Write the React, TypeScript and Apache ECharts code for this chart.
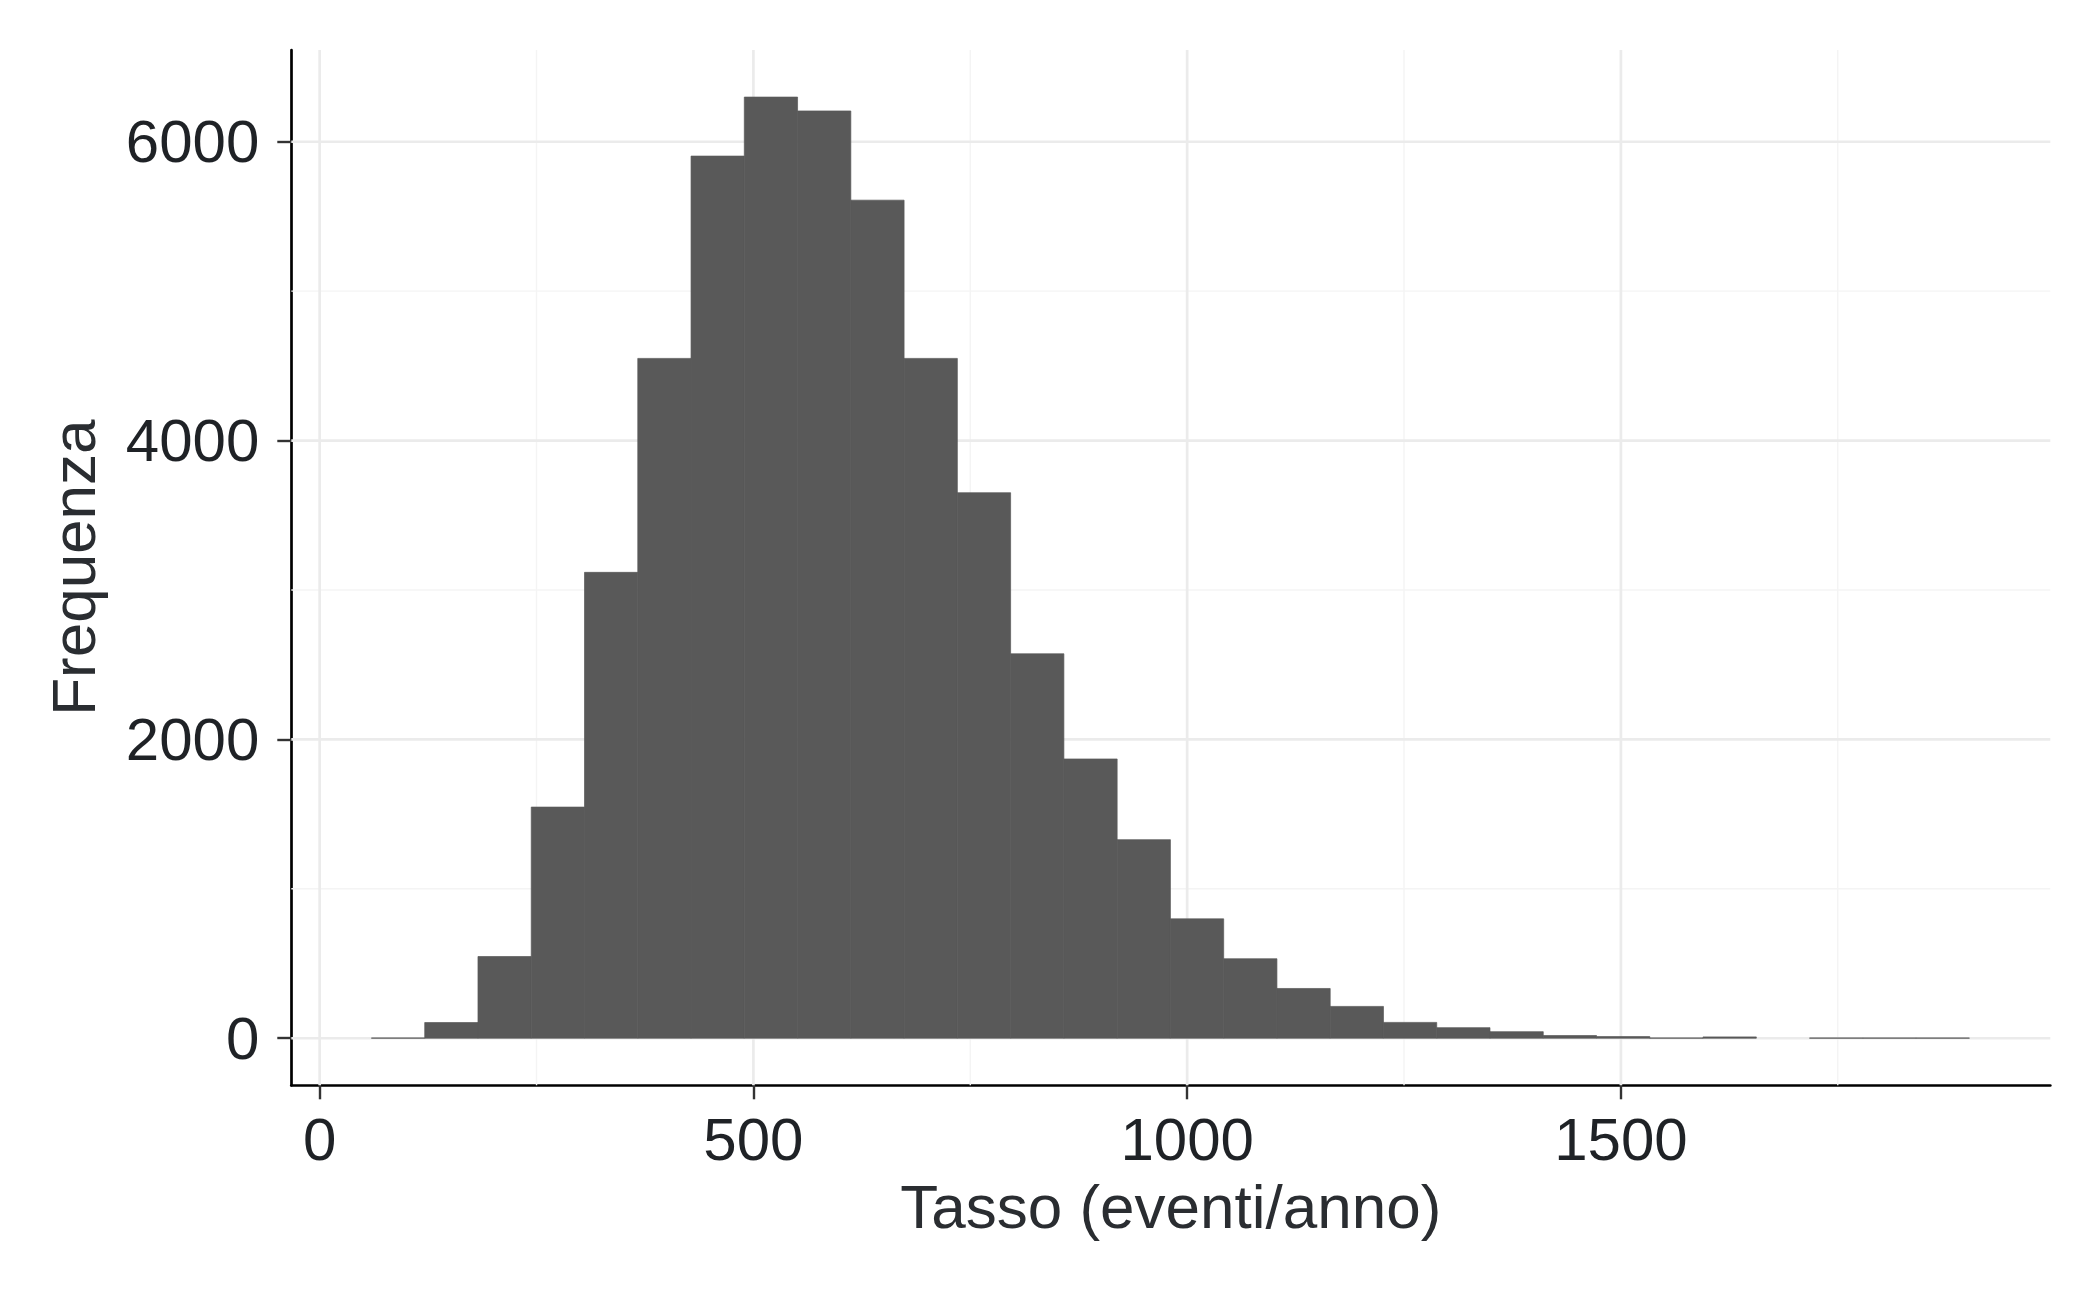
import React, { useEffect, useRef } from "react";
import * as echarts from "echarts";

// Histogram bin edges (eventi/anno) and counts per bin
const binEdges = [
  59.7, 121.1, 182.5, 243.9, 305.3, 366.7, 428.1, 489.5, 550.9, 612.3, 673.7,
  735.1, 796.5, 857.9, 919.3, 980.7, 1042.1, 1103.5, 1164.9, 1226.3, 1287.7,
  1349.1, 1410.5, 1471.9, 1533.3, 1594.7, 1656.1, 1717.5, 1778.9, 1840.3, 1901.7,
];
const counts = [
  2, 105, 547, 1547, 3118, 4550, 5904, 6299, 6206, 5609, 4550, 3651, 2573, 1869,
  1329, 799, 532, 333, 213, 106, 71, 44, 18, 11, 2, 9, 0, 2, 2, 2,
];

const xTicks = [0, 500, 1000, 1500];
const xMinor = [250, 750, 1250, 1750];
const yTicks = [0, 2000, 4000, 6000];
const yMinor = [1000, 3000, 5000];

const xTitle = "Tasso (eventi/anno)";
const yTitle = "Frequenza";

const X_MIN = -32.7;
const X_MAX = 1995;
const Y_MIN = -315;
const Y_MAX = 6614;

const FONT = "'Liberation Sans', Arial, Helvetica, sans-serif";
const TEXT = "#1f2226";
const BAR = "#595959";

export default function App() {
  const ref = useRef<HTMLDivElement>(null);

  useEffect(() => {
    const chart = echarts.init(ref.current as HTMLDivElement, null, { renderer: "svg" });

    const bars = counts.map((c, i) => [binEdges[i], binEdges[i + 1], c]);
    const gridData: number[][] = [];
    xMinor.forEach((v) => gridData.push([v, 0, 0]));
    yMinor.forEach((v) => gridData.push([v, 1, 0]));
    xTicks.forEach((v) => gridData.push([v, 0, 1]));
    yTicks.forEach((v) => gridData.push([v, 1, 1]));

    const plain = (v: number) => String(v);

    const option: any = {
      animation: false,
      backgroundColor: "#ffffff",
      grid: {
        left: 291.3,
        right: 49.7,
        top: 50,
        bottom: 211.7,
        containLabel: false,
        outerBoundsMode: "none",
      },
      xAxis: {
        type: "value",
        min: X_MIN,
        max: X_MAX,
        splitLine: { show: false },
        axisLine: { show: true, onZero: false, lineStyle: { color: "#000", width: 2.7 } },
        axisTick: {
          show: true,
          customValues: xTicks,
          length: 14,
          lineStyle: { color: "#333", width: 2.4 },
        },
        axisLabel: {
          customValues: xTicks,
          formatter: plain,
          fontSize: 60,
          color: TEXT,
          fontFamily: FONT,
          margin: 24,
        },
        name: xTitle,
        nameLocation: "middle",
        nameGap: 90,
        nameTextStyle: { fontSize: 62, color: "#2a2d31", fontFamily: FONT },
      },
      yAxis: {
        type: "value",
        min: Y_MIN,
        max: Y_MAX,
        splitLine: { show: false },
        axisLine: { show: true, onZero: false, lineStyle: { color: "#000", width: 2.7 } },
        axisTick: {
          show: true,
          customValues: yTicks,
          length: 14,
          lineStyle: { color: "#333", width: 2.4 },
        },
        axisLabel: {
          customValues: yTicks,
          formatter: plain,
          fontSize: 60,
          color: TEXT,
          fontFamily: FONT,
          margin: 32,
        },
        name: yTitle,
        nameLocation: "middle",
        nameRotate: 90,
        nameGap: 187,
        nameTextStyle: { fontSize: 62, color: "#2a2d31", fontFamily: FONT },
      },
      series: [
        {
          type: "custom",
          name: "grid",
          silent: true,
          z: 1,
          data: gridData,
          encode: { x: 0, y: 1 },
          renderItem: (_params: any, api: any) => {
            const v = api.value(0);
            const horiz = api.value(1) === 1;
            const major = api.value(2) === 1;
            const p1 = horiz ? api.coord([X_MIN, v]) : api.coord([v, Y_MIN]);
            const p2 = horiz ? api.coord([X_MAX, v]) : api.coord([v, Y_MAX]);
            return {
              type: "line",
              shape: { x1: p1[0], y1: p1[1], x2: p2[0], y2: p2[1] },
              style: {
                stroke: major ? "#ebebeb" : "#f4f4f4",
                lineWidth: major ? 2.7 : 1.4,
              },
            };
          },
        },
        {
          type: "custom",
          name: "Frequenza",
          z: 2,
          data: bars,
          encode: { x: [0, 1], y: 2 },
          renderItem: (_params: any, api: any) => {
            const x0 = api.value(0);
            const x1 = api.value(1);
            const c = api.value(2);
            const pTop = api.coord([x0, c]);
            const pBot = api.coord([x1, 0]);
            return {
              type: "rect",
              shape: {
                x: pTop[0],
                y: pTop[1],
                width: pBot[0] - pTop[0],
                height: Math.max(pBot[1] - pTop[1], 0),
              },
              style: {
                fill: BAR,
                stroke: c > 0 ? BAR : "none",
                lineWidth: c > 0 ? 0.7 : 0,
              },
            };
          },
        },
      ],
    };

    chart.setOption(option);
    return () => {
      chart.dispose();
    };
  }, []);

  return (
    <div
      ref={ref}
      style={{ position: "fixed", left: 0, top: 0, width: 2100, height: 1297, background: "#fff" }}
    />
  );
}
